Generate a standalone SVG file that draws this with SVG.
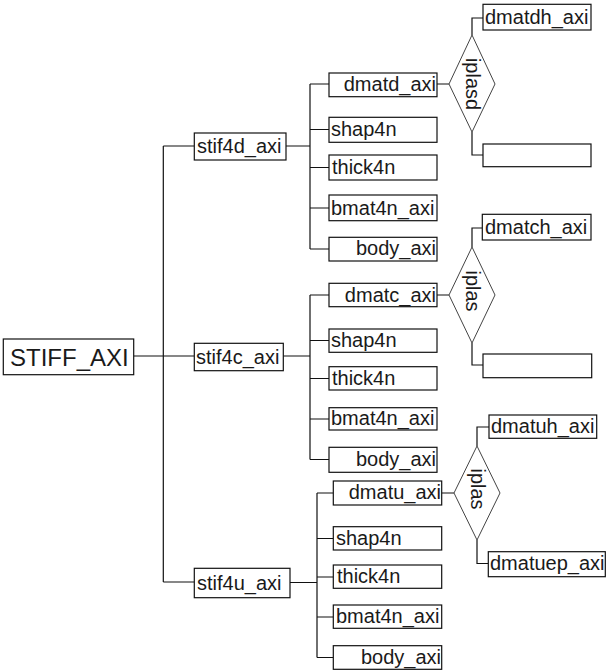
<svg xmlns="http://www.w3.org/2000/svg" width="606" height="670" viewBox="0 0 606 670">
<style>
rect{fill:#fff;stroke:#111;stroke-width:1.2}
polygon{fill:#fff;stroke:#444;stroke-width:1}
#connectors path{fill:none;stroke:#111;stroke-width:1.2}
text{font-family:"Liberation Sans",Arial,sans-serif;font-size:20px;fill:#1a1a1a}
.r{text-anchor:end}
.m{text-anchor:middle}
</style>
<rect x="0" y="0" width="606" height="670" style="fill:#fff;stroke:none"/>
<g id="connectors">
<path d="M133.7 356H194M163.3 146V582M163.3 146H194M163.3 582H194"/>
<path d="M286 146H310M310 84V249M310 84H329M310 129.5H329M310 167.5H329M310 208H329M310 249H329"/>
<path d="M437 84H449M472 35V18H483M472 132V155H483"/>
<path d="M283 356H310M310 295V459.5M310 295H329M310 340.5H329M310 378.5H329M310 419H329M310 459.5H329"/>
<path d="M437 295H449M472 247V228H482.3M472 343V365H483"/>
<path d="M290 582.5H317M317 493V657.5M317 493H333.3M317 538.5H333.3M317 577H333.3M317 617H333.3M317 657.5H333.3"/>
<path d="M441.7 493H454M477 446V427H489M477 540V563.5H488.3"/>
</g>
<g id="STIFF_AXI"><rect x="3.3" y="339" width="130.4" height="35.7"/><text x="10" y="366" style="font-size:24px">STIFF_AXI</text></g>
<g id="stif4d_axi"><rect x="194.3" y="133" width="91.7" height="27"/><text x="197" y="153">stif4d_axi</text></g>
<g id="stif4c_axi"><rect x="194.3" y="343.3" width="89" height="27.4"/><text x="196" y="364">stif4c_axi</text></g>
<g id="stif4u_axi"><rect x="194.3" y="568.3" width="95.7" height="29.4"/><text x="197" y="590">stif4u_axi</text></g>

<g id="dmatd_axi"><rect x="329" y="73" width="108" height="23.7"/><text class="r" x="436" y="91">dmatd_axi</text></g>
<g id="shap4n_1"><rect x="329" y="117.3" width="108" height="25"/><text x="331" y="136">shap4n</text></g>
<g id="thick4n_1"><rect x="329" y="155" width="108" height="25"/><text x="332" y="174">thick4n</text></g>
<g id="bmat4n_axi_1"><rect x="329" y="195" width="108" height="25.7"/><text x="331" y="215">bmat4n_axi</text></g>
<g id="body_axi_1"><rect x="329" y="237.3" width="108" height="23.7"/><text class="r" x="436" y="255">body_axi</text></g>
<g id="iplasd"><polygon points="449,84 472,35 495,84 472,132"/><text class="m" transform="translate(466,84) rotate(90)">iplasd</text></g>
<g id="dmatdh_axi"><rect x="483" y="4.3" width="108" height="25.7"/><text x="485" y="24">dmatdh_axi</text></g>
<g id="empty_1"><rect x="483" y="144" width="108" height="22.7"/></g>

<g id="dmatc_axi"><rect x="329" y="283.3" width="108" height="23.4"/><text class="r" x="436" y="302">dmatc_axi</text></g>
<g id="shap4n_2"><rect x="329" y="329" width="108" height="23.3"/><text x="331" y="347">shap4n</text></g>
<g id="thick4n_2"><rect x="329" y="366.7" width="108" height="23.3"/><text x="332" y="385">thick4n</text></g>
<g id="bmat4n_axi_2"><rect x="329" y="407.7" width="108" height="22.3"/><text x="331" y="425">bmat4n_axi</text></g>
<g id="body_axi_2"><rect x="329" y="447.3" width="108" height="25"/><text class="r" x="436" y="466">body_axi</text></g>
<g id="iplas_2"><polygon points="449,295 472,247 495,295 472,343"/><text class="m" transform="translate(466,291) rotate(90)">iplas</text></g>
<g id="dmatch_axi"><rect x="482.3" y="214.3" width="108.7" height="25.7"/><text x="485" y="234">dmatch_axi</text></g>
<g id="empty_2"><rect x="483" y="354" width="108.7" height="23.7"/></g>

<g id="dmatu_axi"><rect x="333.3" y="481" width="108.4" height="24"/><text class="r" x="441" y="499">dmatu_axi</text></g>
<g id="shap4n_3"><rect x="333.3" y="526.7" width="108.4" height="23.3"/><text x="336" y="545">shap4n</text></g>
<g id="thick4n_3"><rect x="333.3" y="565" width="108.4" height="23.3"/><text x="337" y="583">thick4n</text></g>
<g id="bmat4n_axi_3"><rect x="333.3" y="605" width="108.4" height="23.3"/><text x="336" y="623">bmat4n_axi</text></g>
<g id="body_axi_3"><rect x="333.3" y="645.7" width="108.4" height="23.6"/><text class="r" x="441" y="664">body_axi</text></g>
<g id="iplas_3"><polygon points="454,493 477,446 500,493 477,540"/><text class="m" transform="translate(471,489) rotate(90)">iplas</text></g>
<g id="dmatuh_axi"><rect x="489" y="415" width="107.7" height="23.3"/><text x="491" y="433">dmatuh_axi</text></g>
<g id="dmatuep_axi"><rect x="488.3" y="551.7" width="117" height="25"/><text x="490" y="570">dmatuep_axi</text></g>
</svg>
